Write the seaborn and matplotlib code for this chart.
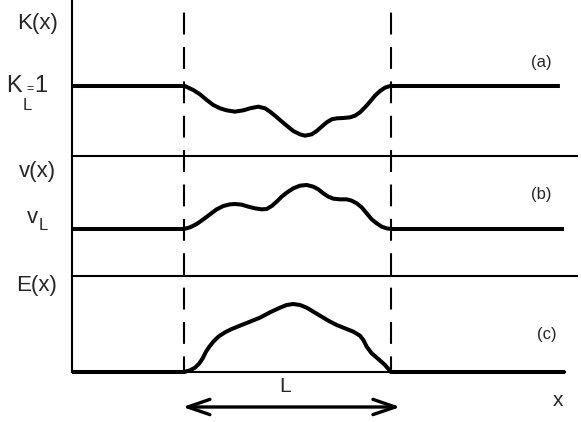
import matplotlib
matplotlib.use("Agg")
import matplotlib.pyplot as plt
import seaborn as sns

sns.set_style("white")
plt.rcParams['font.family'] = ['Liberation Sans', 'DejaVu Sans']

# ---- data (x in units of the interval length L; 0..1 is the region L) ----
K_x = [-0.541, 0.0, 0.0048, 0.0449, 0.0773, 0.1097, 0.1415, 0.1739, 0.2063, 0.2464,
       0.2865, 0.3188, 0.3589, 0.3913, 0.4155, 0.4396, 0.4638, 0.4961, 0.5280, 0.5604,
       0.5845, 0.6169, 0.6411, 0.6652, 0.6894, 0.7135, 0.7377, 0.7696, 0.8019, 0.8261,
       0.8502, 0.8744, 0.8986, 0.9227, 0.9469, 0.9710, 0.9952, 1.816]
K_vals = [1.0, 1.0, 0.999, 0.976, 0.950, 0.916, 0.886, 0.866, 0.854, 0.846,
          0.854, 0.866, 0.876, 0.866, 0.846, 0.822, 0.796, 0.762, 0.730, 0.710,
          0.702, 0.710, 0.730, 0.756, 0.782, 0.800, 0.806, 0.808, 0.812, 0.822,
          0.842, 0.872, 0.906, 0.942, 0.970, 0.990, 1.0, 1.0]

v_x = [-0.541, 0.0, 0.0290, 0.0612, 0.0934, 0.1256, 0.1578, 0.1900, 0.2222, 0.2464,
       0.2786, 0.3108, 0.3430, 0.3752, 0.3995, 0.4237, 0.4477, 0.4720, 0.4961, 0.5280,
       0.5604, 0.5926, 0.6246, 0.6488, 0.6729, 0.6971, 0.7213, 0.7536, 0.7860, 0.8101,
       0.8343, 0.8585, 0.8826, 0.9068, 0.9309, 0.9551, 0.9792, 1.0, 1.836]
v_vals = [1.0, 1.0, 1.010, 1.030, 1.058, 1.088, 1.118, 1.138, 1.148, 1.150,
          1.146, 1.134, 1.124, 1.118, 1.120, 1.138, 1.164, 1.194, 1.218, 1.244,
          1.260, 1.264, 1.254, 1.238, 1.214, 1.194, 1.182, 1.178, 1.178, 1.170,
          1.154, 1.130, 1.094, 1.058, 1.034, 1.014, 1.004, 1.0, 1.0]

E_x = [-0.541, 0.0, 0.0290, 0.0531, 0.0741, 0.0902, 0.1063, 0.1224, 0.1417, 0.1659,
       0.1981, 0.2303, 0.2705, 0.3188, 0.3671, 0.4155, 0.4638, 0.4961, 0.5280, 0.5604,
       0.5926, 0.6246, 0.6570, 0.6971, 0.7377, 0.7778, 0.8179, 0.8502, 0.8663, 0.8826,
       0.9068, 0.9386, 0.9710, 1.0, 1.841]
E_vals = [0.0, 0.0, 0.025, 0.065, 0.130, 0.205, 0.305, 0.380, 0.455, 0.530,
          0.595, 0.645, 0.695, 0.755, 0.815, 0.895, 0.965, 1.005, 1.020, 1.005,
          0.965, 0.905, 0.845, 0.770, 0.705, 0.655, 0.605, 0.545, 0.480, 0.380,
          0.280, 0.195, 0.105, 0.0, 0.0]

region_edges = [0.0, 1.0]
panel_labels = ["(a)", "(b)", "(c)"]
ylabels = ["K(x)", "v(x)", "E(x)"]

W, H = 581, 422
fig = plt.figure(figsize=(W / 100, H / 100), dpi=100)
gs = fig.add_gridspec(3, 1, height_ratios=[156, 120, 96], hspace=0,
                      left=72 / W, right=577 / W, top=1.0, bottom=50 / H)
axes = [fig.add_subplot(gs[i]) for i in range(3)]

xlim = (-0.5411, 1.8986)
ylims = [(0.58, 1.516), (0.718, 1.438), (0.0, 1.44)]
series = [(K_x, K_vals), (v_x, v_vals), (E_x, E_vals)]

for ax, (xs, ys), yl in zip(axes, series, ylims):
    sns.lineplot(x=xs, y=ys, ax=ax, color="black", linewidth=2.9, sort=False,
                 solid_joinstyle="round", solid_capstyle="butt", clip_on=False)
    ax.set_xlim(*xlim)
    ax.set_ylim(*yl)
    ax.set_xticks([])
    ax.set_yticks([])
    ax.set_facecolor("none")
    for s in ax.spines.values():
        s.set_color("black")
        s.set_linewidth(1.5)
    ax.spines['top'].set_visible(False)
    ax.spines['right'].set_visible(False)

axes[2].spines['bottom'].set_bounds(xlim[0], 1.841)

# overlay axes for continuous dashed lines
ov = fig.add_axes([72 / W, 50 / H, 505 / W, 372 / H], facecolor="none")
ov.set_xlim(*xlim)
ov.set_ylim(0, 1)
ov.axis("off")
for xe in region_edges:
    ov.axvline(xe, ymin=0, ymax=0.985, color="black", linewidth=1.5,
               linestyle=(3, (10.5, 6.0)))

def ftext(px, py, s, size, **kw):
    fig.text(px / W, 1 - py / H, s, fontsize=size, ha="center", va="center", **kw)

ftext(38, 23, ylabels[0], 16)
ftext(37, 172, ylabels[1], 16)
ftext(37, 286, ylabels[2], 16)

ftext(14, 86, "K", 17)
ftext(30, 89, "=", 9)
ftext(41, 86, "1", 17)
ftext(27, 106, "L", 12)

ftext(32, 217, "v", 16)
ftext(43, 225, "L", 12)

ftext(541, 62, panel_labels[0], 12)
ftext(541, 194, panel_labels[1], 12)
ftext(547, 335, panel_labels[2], 12)

ftext(285, 386, "L", 15)
ftext(558, 401, "x", 15)

axes[2].annotate("", xy=(1.045, 15 / H), xytext=(-0.007, 15 / H),
                 xycoords=("data", "figure fraction"),
                 textcoords=("data", "figure fraction"),
                 arrowprops=dict(arrowstyle="<->,head_length=1.6,head_width=0.55",
                                 color="black", lw=2.4, shrinkA=0, shrinkB=0))

fig.savefig("out.png", dpi=100)
